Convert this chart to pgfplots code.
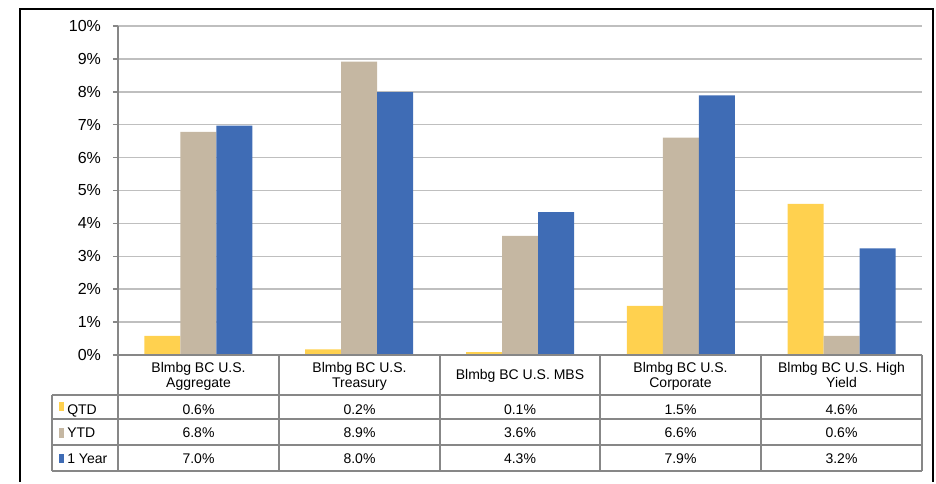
\documentclass[border=0pt]{standalone}
\usepackage{pgfplots}
\pgfplotsset{compat=1.18}
\usepackage{fontspec}
\setmainfont{Liberation Sans}

\definecolor{qtd}{HTML}{FFD14F}
\definecolor{ytd}{HTML}{C5B7A2}
\definecolor{oneyr}{HTML}{3F6CB5}
\definecolor{gridgray}{HTML}{BFBFBF}
\definecolor{tabgray}{HTML}{878787}

\newcommand{\tabfont}{\fontsize{10.5}{12}\selectfont}

\begin{document}
\begin{tikzpicture}
% page frame in image pixels (1px = 0.75pt)
\begin{scope}[x=0.75pt,y=0.75pt]
  \path (0,0) rectangle (936,482);
\end{scope}

\begin{axis}[
  at={(88.5pt,95.25pt)}, anchor=south west,
  scale only axis, width=603pt, height=246.75pt,
  ybar=0pt, bar width=27pt,
  xmin=-0.5, xmax=4.5, ymin=0, ymax=10,
  xtick=\empty,
  ytick={0,1,...,10},
  yticklabel={\pgfmathprintnumber{\tick}\%},
  /pgf/number format/assume math mode=true,
  ymajorgrids,
  grid style={gridgray, line width=1.1pt},
  axis x line=none,
  axis y line*=left,
  y axis line style={tabgray, line width=1.1pt, -},
  tick align=outside,
  major tick length=3.75pt,
  ytick style={tabgray, line width=1.1pt},
  yticklabel style={font=\fontsize{12}{14}\selectfont, text=black, xshift=-5.5pt},
  clip=false,
]
\addplot[fill=qtd, draw=none] coordinates {(0,0.58) (1,0.17) (2,0.09) (3,1.49) (4,4.59)};
\addplot[fill=ytd, draw=none] coordinates {(0,6.78) (1,8.92) (2,3.62) (3,6.61) (4,0.58)};
\addplot[fill=oneyr, draw=none] coordinates {(0,6.97) (1,7.99) (2,4.34) (3,7.89) (4,3.24)};
\end{axis}

\begin{scope}[x=0.75pt,y=0.75pt]
  % outer frame, open at the bottom edge of the page
  \draw[black, line width=1.5pt] (20,0) -- (20,473) -- (933,473) -- (933,0);
  % data table grid
  \draw[tabgray, line width=1.1pt]
    (118,127) -- (922,127)
    (52,87) -- (922,87)
    (52,63) -- (922,63)
    (52,37) -- (922,37)
    (52,11) -- (922,11)
    (52,87) -- (52,11);
  \foreach \x in {118,279,440,600,761,922}
    \draw[tabgray, line width=1.1pt] (\x,127) -- (\x,11);
  % category headers
  \foreach \x/\a/\b in {198.5/Blmbg BC U.S./Aggregate, 359.5/Blmbg BC U.S./Treasury,
                         680.5/Blmbg BC U.S./Corporate, 841.5/Blmbg BC U.S. High/Yield} {
    \node[anchor=base, inner sep=0pt, font=\tabfont] at (\x,109.7) {\a};
    \node[anchor=base, inner sep=0pt, font=\tabfont] at (\x,94.5) {\b};
  }
  \node[anchor=base, inner sep=0pt, font=\tabfont] at (520,103) {Blmbg BC U.S. MBS};
  % legend keys and row names
  \fill[qtd] (59,71) rectangle (64,80);
  \fill[ytd] (59,44) rectangle (64,54);
  \fill[oneyr] (59,19) rectangle (64,28);
  \node[anchor=base west, inner sep=0pt, font=\tabfont] at (67,68) {QTD};
  \node[anchor=base west, inner sep=0pt, font=\tabfont] at (67,44.3) {YTD};
  \node[anchor=base west, inner sep=0pt, font=\tabfont] at (67,18.7) {1 Year};
  % values
  \foreach \x/\q/\y/\o in {198.5/0.6/6.8/7.0, 359.5/0.2/8.9/8.0, 520/0.1/3.6/4.3,
                            680.5/1.5/6.6/7.9, 841.5/4.6/0.6/3.2} {
    \node[anchor=base, inner sep=0pt, font=\tabfont] at (\x,68) {\q\%};
    \node[anchor=base, inner sep=0pt, font=\tabfont] at (\x,44.3) {\y\%};
    \node[anchor=base, inner sep=0pt, font=\tabfont] at (\x,18.7) {\o\%};
  }
\end{scope}
\end{tikzpicture}
\end{document}
